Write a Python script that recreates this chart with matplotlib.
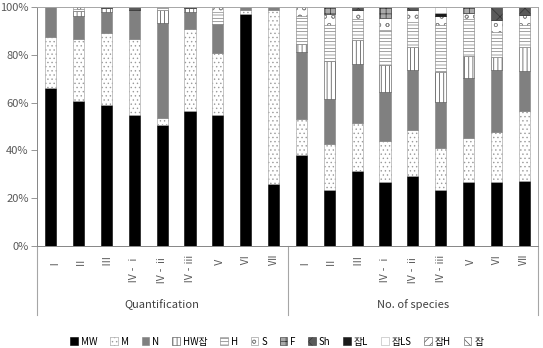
import matplotlib
matplotlib.use("Agg")
import matplotlib.pyplot as plt
import numpy as np
from matplotlib.patches import Patch
from matplotlib.transforms import blended_transform_factory

plt.rcParams["font.family"] = ["Noto Sans CJK KR", "DejaVu Sans"]
plt.rcParams["hatch.linewidth"] = 0.5

# categories: 9 sites x 2 groups
sites = ["Ⅰ", "Ⅱ", "Ⅲ", "Ⅳ - ⅰ", "Ⅳ - ⅱ", "Ⅳ - ⅲ", "Ⅴ", "Ⅵ", "Ⅶ"]
groups = ["Quantification", "No. of species"]
legend_labels = ["MW", "M", "N", "HW잡", "H", "S", "F", "Sh", "잡L", "잡LS", "잡H", "잡"]

# series values (%), first 9 = Quantification, last 9 = No. of species
mw   = [66.3, 60.6, 59.1, 55.0, 50.6, 56.3, 54.7, 96.9, 25.8,
        37.9, 23.3, 31.5, 26.7, 29.4, 23.5, 26.7, 26.6, 27.2]
m    = [21.2, 26.2, 30.0, 31.5, 2.9, 34.4, 26.2, 1.7, 72.8,
        15.3, 19.3, 20.0, 17.3, 19.3, 17.7, 18.3, 20.9, 29.3]
n    = [12.5, 9.4, 8.8, 12.4, 39.8, 7.2, 12.1, 1.4, 1.4,
        27.9, 18.7, 24.8, 20.6, 24.8, 19.1, 25.1, 26.3, 16.8]
hw   = [0, 2.0, 1.6, 0, 5.3, 1.6, 0, 0, 0,
        3.6, 16.0, 9.8, 11.0, 9.8, 12.5, 9.3, 5.3, 10.0]
h    = [0, 1.0, 0, 0, 1.4, 0, 5.0, 0, 0,
        11.6, 15.0, 9.0, 14.7, 10.4, 19.6, 15.6, 10.5, 9.0]
s    = [0, 0.8, 0, 0, 0, 0, 2.0, 0, 0,
        3.7, 4.9, 3.5, 5.0, 5.0, 3.7, 2.5, 4.8, 4.2]
f    = [0, 0, 0.5, 0, 0, 0.5, 0, 0, 0,
        0, 2.8, 0, 4.7, 0, 0, 2.5, 0, 0]
sh   = [0, 0, 0, 1.1, 0, 0, 0, 0, 0,
        0, 0, 1.4, 0, 1.3, 0, 0, 5.6, 3.5]
jl   = [0, 0, 0, 0, 0, 0, 0, 0, 0,
        0, 0, 0, 0, 0, 1.3, 0, 0, 0]
jls  = [0, 0, 0, 0, 0, 0, 0, 0, 0,
        0, 0, 0, 0, 0, 2.6, 0, 0, 0]
jh   = [0] * 18
j    = [0] * 18

series = [mw, m, n, hw, h, s, f, sh, jl, jls, jh, j]

# (facecolor, edgecolor, hatch)
styles = [
    ("#000000", "#000000", None),
    ("#ffffff", "#9a9a9a", "...."),
    ("#808080", "#808080", None),
    ("#ffffff", "#444444", "||||"),
    ("#ffffff", "#7a7a7a", "-----"),
    ("#ffffff", "#8a8a8a", "oo"),
    ("#aaaaaa", "#333333", "+++"),
    ("#5a5a5a", "#333333", "xx"),
    ("#1a1a1a", "#1a1a1a", None),
    ("#ffffff", "#b0b0b0", None),
    ("#ffffff", "#555555", "////"),
    ("#ffffff", "#555555", "\\\\\\\\"),
]

fig = plt.figure(figsize=(5.43, 3.48), dpi=100)
ax = fig.add_axes([0.068, 0.293, 0.923, 0.687])

x = np.arange(len(mw))
bottom = np.zeros(len(x))
handles = []
for vals, (fc, ec, hatch), lab in zip(series, styles, legend_labels):
    vals = np.array(vals, dtype=float)
    ax.bar(x, vals, width=0.4, bottom=bottom, color=fc, edgecolor=ec,
           hatch=hatch, linewidth=0.4)
    bottom += vals
    handles.append(Patch(facecolor=fc, edgecolor=ec, hatch=hatch, linewidth=0.4, label=lab))

ax.set_xlim(-0.5, len(x) - 0.5)
ax.set_ylim(0, 100)
ax.set_yticks(np.arange(0, 101, 20))
ax.set_yticklabels([f"{v}%" for v in range(0, 101, 20)], fontsize=8, color="#595959")
ax.tick_params(axis="y", length=4, width=0.6, color="#868686", pad=2)

ax.set_xticks(x)
ax.set_xticklabels(sites * 2, rotation=90, fontsize=7.5, color="#595959", va="top")
ax.tick_params(axis="x", length=0, pad=6)

for side in ["left", "bottom"]:
    ax.spines[side].set_color("#868686")
    ax.spines[side].set_linewidth(0.7)
for side in ["top", "right"]:
    ax.spines[side].set_color("#a6a6a6")
    ax.spines[side].set_linewidth(0.7)

# group dividers and labels below the axis
trans = blended_transform_factory(ax.transData, ax.transAxes)
for xd in [-0.5, 8.5, 17.5]:
    ax.plot([xd, xd], [0, -0.29], transform=trans, color="#a6a6a6",
            linewidth=0.8, clip_on=False)
for gi, g in enumerate(groups):
    ax.text(gi * 9 + 4, -0.245, g, transform=trans, ha="center", va="center",
            fontsize=8, color="#404040")

fig.legend(handles=handles, loc="lower center", bbox_to_anchor=(0.51, 0.0),
           ncol=12, frameon=False, fontsize=7, handlelength=0.8, handleheight=0.8,
           handletextpad=0.3, columnspacing=1.3, borderaxespad=0, borderpad=0.15)

fig.savefig("out.png", dpi=100)
